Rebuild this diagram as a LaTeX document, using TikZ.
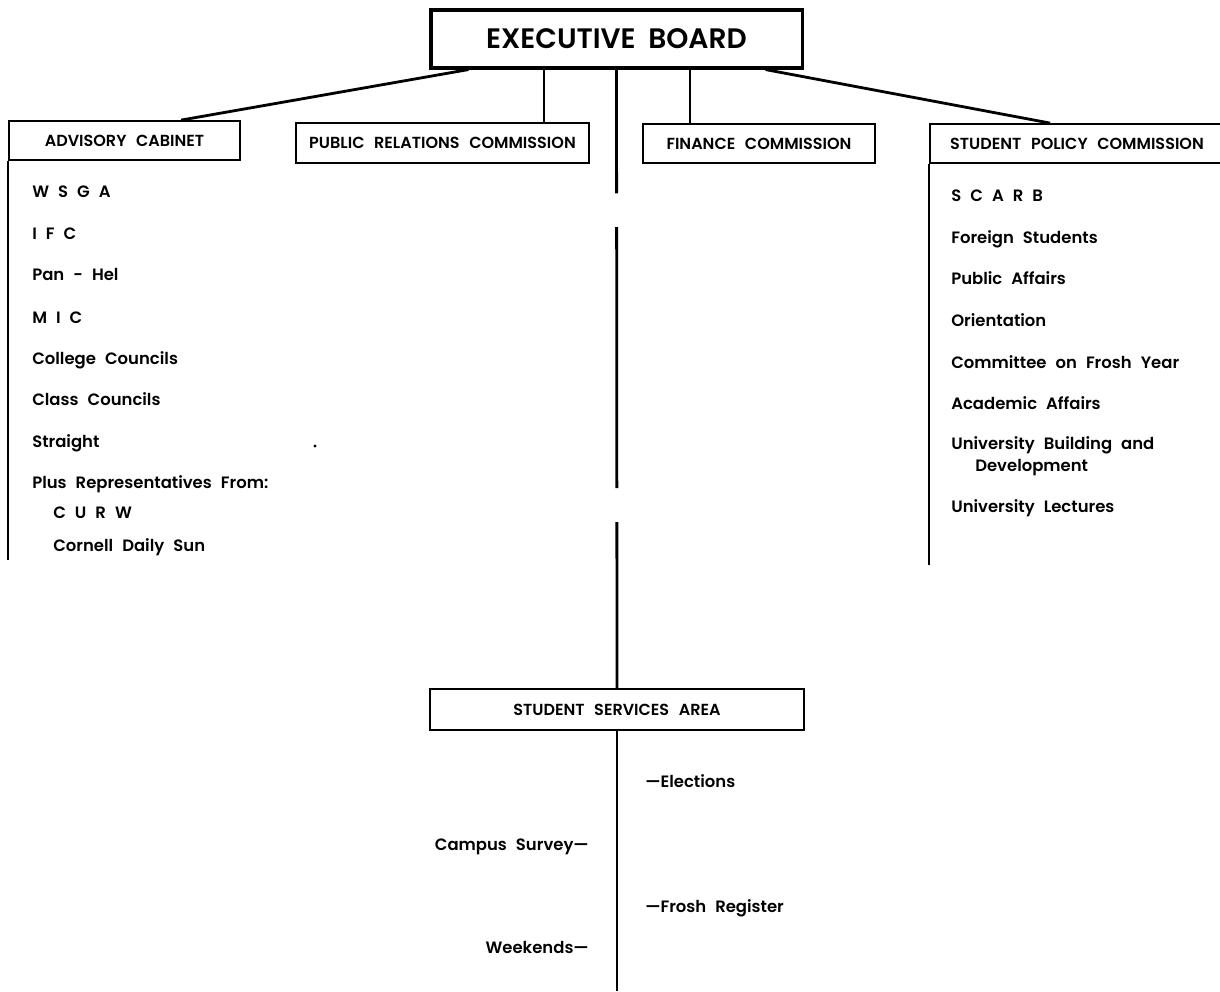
\documentclass[tikz,border=0pt]{standalone}
\usepackage{fontspec}
\setmainfont{Poppins}[BoldFont={* SemiBold}]
\usetikzlibrary{calc}
\newcommand{\boardfont}{\fontsize{20}{24}\selectfont\bfseries\spaceskip=0.45em plus 0pt\relax}
\newcommand{\boxfont}{\fontsize{11.4}{13}\selectfont\bfseries\spaceskip=0.6em plus 0pt\relax}
\newcommand{\itemfont}{\fontsize{11.7}{13}\selectfont\bfseries\spaceskip=0.55em plus 0pt\relax}

\begin{document}
\begin{tikzpicture}[x=0.025cm, y=-0.025cm,
    box/.style={draw, line width=1.3pt, inner sep=0pt, text depth=0pt, execute at begin node=\boxfont},
    item/.style={anchor=base west, inner sep=0pt, execute at begin node=\itemfont},
    link/.style={line width=2pt}]
\useasboundingbox (0,0) rectangle (1220,991);

% Boxes
\node[box, line width=2.2pt, minimum width=263.9pt, minimum height=41.3pt, execute at begin node=\boardfont] (eb) at (616.5,39) {EXECUTIVE BOARD};
\node[box, minimum width=164.3pt, minimum height=27.7pt] (adv) at (124.5,140.5) {ADVISORY CABINET};
\node[box, minimum width=208.4pt, minimum height=28.5pt] (prc) at (442.5,143) {PUBLIC RELATIONS COMMISSION};
\node[box, minimum width=165pt, minimum height=27.7pt] (fin) at (759,143.5) {FINANCE COMMISSION};
\node[box, minimum width=209.1pt, minimum height=27.7pt] (spc) at (1077,143.5) {STUDENT POLICY COMMISSION};
\node[box, minimum width=266pt, minimum height=29.2pt] (ssa) at (617,709.5) {STUDENT SERVICES AREA};

% Edges from the board
\draw[link] ($(eb.south west)+(39,0)$) -- ($(adv.north west)+(173,0)$);
\draw[link] ($(prc.north east)+(-46,0)$) coordinate (p) -- (p |- eb.south);
\draw[link] ($(fin.north west)+(48,0)$) coordinate (f) -- (f |- eb.south);
\draw[link] ($(eb.south east)+(-38,0)$) -- ($(spc.north west)+(121,0)$);
\draw[link, dash pattern=on 88pt off 24pt on 185.7pt off 24.2pt on 200pt] (eb.south) -- (ssa.north);
\coordinate (bottom) at (617,991);
\draw[link] (ssa.south) -- (bottom);

% Column lines
\coordinate (advend) at (0,560);
\coordinate (spcend) at (0,565);
\draw[line width=1.5pt] (adv.south west) -- (adv.south west |- advend);
\draw[line width=1.5pt] (spc.south west) -- (spc.south west |- spcend);

% Advisory cabinet
\node[item] (wsga) at (32,198) {W S G A};
\node[item] (ifc) at (32,239) {I F C};
\node[item] (panhel) at (32,280) {Pan - Hel};
\node[item] (mic) at (32,323) {M I C};
\node[item] (college) at (32,364) {College Councils};
\node[item] (class) at (32,405) {Class Councils};
\node[item] (straight) at (32,447) {Straight};
\node[item] (plus) at (32,488) {Plus Representatives From:};
\node[item] (curw) at (53,518) {C U R W};
\node[item] (sun) at (53,551) {Cornell Daily Sun};
\fill (315,446) circle (1.1pt);

% Student policy commission
\node[item] (scarb) at (951,202) {S C A R B};
\node[item] (foreign) at (951,243) {Foreign Students};
\node[item] (public) at (951,284) {Public Affairs};
\node[item] (orient) at (951,326) {Orientation};
\node[item] (frosh) at (951,368) {Committee on Frosh Year};
\node[item] (academic) at (951,409) {Academic Affairs};
\node[item] (building) at (951,449) {University Building and};
\node[item] (develop) at (975,471) {Development};
\node[item] (lectures) at (951,512) {University Lectures};

% Student services
\node[item] (elections) at (645,787) {---Elections};
\node[item, anchor=base east] (survey) at (589,850) {Campus Survey---};
\node[item] (register) at (645,912) {---Frosh Register};
\node[item, anchor=base east] (weekends) at (589,953) {Weekends---};
\end{tikzpicture}
\end{document}
